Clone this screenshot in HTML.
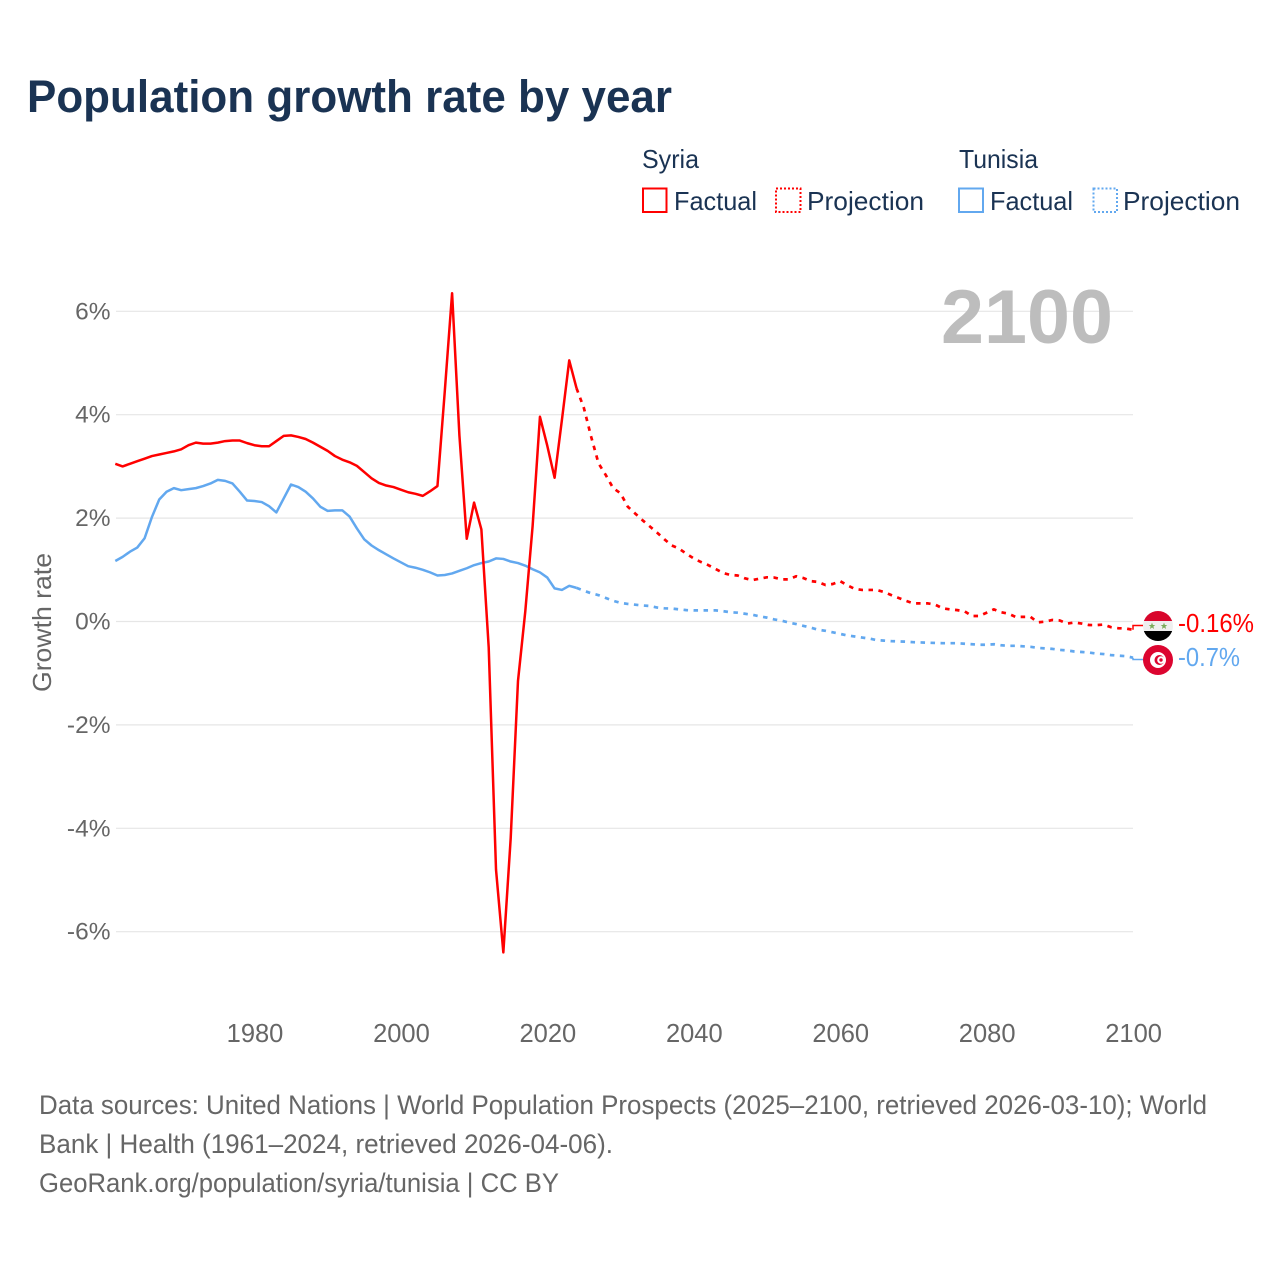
<!DOCTYPE html>
<html lang="en">
<head>
<meta charset="utf-8">
<title>Population growth rate by year</title>
<style>
html,body{margin:0;padding:0;background:#fff;width:1280px;height:1280px;overflow:hidden}
svg{display:block}
text{font-family:"Liberation Sans",sans-serif}
</style>
</head>
<body>
<svg id="chart" xmlns="http://www.w3.org/2000/svg" width="1280" height="1280" viewBox="0 0 1280 1280">
  <rect width="1280" height="1280" fill="#ffffff"/>
  <defs>
    <clipPath id="flag-clip-syria"><circle cx="1158" cy="626" r="15"/></clipPath>
    <clipPath id="flag-clip-tunisia"><circle cx="1158" cy="660" r="15"/></clipPath>
  </defs>

  <text x="27" y="112" font-size="45" font-weight="700" fill="#1a3353" textLength="645" lengthAdjust="spacingAndGlyphs">Population growth rate by year</text>

  <g font-size="26" fill="#1a3353">
    <text x="642" y="168" textLength="57" lengthAdjust="spacingAndGlyphs">Syria</text>
    <text x="959" y="168" textLength="79" lengthAdjust="spacingAndGlyphs">Tunisia</text>
    <g>
      <rect x="643" y="188.5" width="23.5" height="23.5" fill="none" stroke="#ff0000" stroke-width="2"/>
      <text x="674" y="210" textLength="83" lengthAdjust="spacingAndGlyphs">Factual</text>
    </g>
    <g>
      <rect x="776" y="188.5" width="24.5" height="23.5" fill="none" stroke="#ff0000" stroke-width="2" stroke-dasharray="2 2"/>
      <text x="807" y="210" textLength="117" lengthAdjust="spacingAndGlyphs">Projection</text>
    </g>
    <g>
      <rect x="959" y="188.5" width="24" height="23.5" fill="none" stroke="#62a8ef" stroke-width="2"/>
      <text x="990" y="210" textLength="83" lengthAdjust="spacingAndGlyphs">Factual</text>
    </g>
    <g>
      <rect x="1093.5" y="188.5" width="23.5" height="23.5" fill="none" stroke="#62a8ef" stroke-width="2" stroke-dasharray="2 2"/>
      <text x="1123" y="210" textLength="117" lengthAdjust="spacingAndGlyphs">Projection</text>
    </g>
  </g>

  <g id="grid"></g>
  <g id="y-ticks"></g>
  <g id="x-ticks"></g>

  <text transform="translate(51 692) rotate(-90)" font-size="26" fill="#666666" textLength="139" lengthAdjust="spacingAndGlyphs">Growth rate</text>

  <text x="1113" y="343" text-anchor="end" font-size="76" font-weight="700" fill="#bdbdbd" textLength="172" lengthAdjust="spacingAndGlyphs">2100</text>

  <g id="series"></g>

  <g clip-path="url(#flag-clip-syria)">
    <rect x="1143" y="611" width="30" height="10" fill="#d8062c"/>
    <rect x="1143" y="621" width="30" height="10" fill="#efefef"/>
    <rect x="1143" y="631" width="30" height="10" fill="#000000"/>
    <polygon fill="#7bab5a" points="1152,622.6 1152.9,625 1155.3,625 1153.4,626.5 1154.1,629 1152,627.5 1149.9,629 1150.6,626.5 1148.7,625 1151.1,625"/>
    <polygon fill="#7bab5a" points="1164,622.6 1164.9,625 1167.3,625 1165.4,626.5 1166.1,629 1164,627.5 1161.9,629 1162.6,626.5 1160.7,625 1163.1,625"/>
  </g>
  <g clip-path="url(#flag-clip-tunisia)">
    <rect x="1143" y="645" width="30" height="30" fill="#dc0530"/>
    <circle cx="1158" cy="660" r="8" fill="#ffffff"/>
    <circle cx="1159.5" cy="660" r="5" fill="#dc0530"/>
    <circle cx="1161" cy="660" r="3.8" fill="#ffffff"/>
    <circle cx="1161" cy="660" r="1.7" fill="#dc0530"/>
  </g>

  <text x="1178" y="632" font-size="26" fill="#ff0000" textLength="76" lengthAdjust="spacingAndGlyphs">-0.16%</text>
  <text x="1178" y="666" font-size="26" fill="#62a8ef" textLength="62" lengthAdjust="spacingAndGlyphs">-0.7%</text>

  <g font-size="27" fill="#666666">
    <text x="39" y="1114" textLength="1168" lengthAdjust="spacingAndGlyphs">Data sources: United Nations | World Population Prospects (2025–2100, retrieved 2026-03-10); World</text>
    <text x="39" y="1153" textLength="574" lengthAdjust="spacingAndGlyphs">Bank | Health (1961–2024, retrieved 2026-04-06).</text>
    <text x="39" y="1192" textLength="520" lengthAdjust="spacingAndGlyphs">GeoRank.org/population/syria/tunisia | CC BY</text>
  </g>
</svg>
<script>
var factualYears = [1961,1962,1963,1964,1965,1966,1967,1968,1969,1970,1971,1972,1973,1974,1975,1976,1977,1978,1979,1980,1981,1982,1983,1984,1985,1986,1987,1988,1989,1990,1991,1992,1993,1994,1995,1996,1997,1998,1999,2000,2001,2002,2003,2004,2005,2006,2007,2008,2009,2010,2011,2012,2013,2014,2015,2016,2017,2018,2019,2020,2021,2022,2023,2024];
var projectionYears = [2024,2025,2026,2027,2028,2029,2030,2031,2032,2033,2034,2035,2036,2037,2038,2039,2040,2041,2042,2043,2044,2045,2046,2047,2048,2049,2050,2051,2052,2053,2054,2055,2056,2057,2058,2059,2060,2061,2062,2063,2064,2065,2066,2067,2068,2069,2070,2071,2072,2073,2074,2075,2076,2077,2078,2079,2080,2081,2082,2083,2084,2085,2086,2087,2088,2089,2090,2091,2092,2093,2094,2095,2096,2097,2098,2099,2100];
var syriaFactual = [3.05,3.00,3.05,3.10,3.15,3.20,3.23,3.26,3.29,3.33,3.41,3.46,3.44,3.44,3.46,3.49,3.50,3.50,3.45,3.41,3.39,3.39,3.49,3.59,3.60,3.57,3.53,3.46,3.38,3.30,3.20,3.13,3.08,3.01,2.89,2.77,2.68,2.63,2.60,2.55,2.50,2.47,2.43,2.52,2.62,4.45,6.35,3.60,1.60,2.30,1.78,-0.50,-4.80,-6.40,-4.20,-1.15,0.20,1.85,3.96,3.40,2.78,3.90,5.05,4.51];
var syriaProjection = [4.51,4.13,3.57,3.06,2.83,2.58,2.48,2.22,2.09,1.96,1.84,1.72,1.59,1.47,1.41,1.31,1.22,1.15,1.09,1.015,0.94,0.90,0.89,0.835,0.80,0.83,0.855,0.85,0.815,0.815,0.875,0.84,0.78,0.765,0.705,0.725,0.78,0.70,0.63,0.61,0.61,0.61,0.57,0.51,0.455,0.40,0.35,0.35,0.35,0.325,0.255,0.235,0.22,0.197,0.106,0.106,0.17,0.235,0.178,0.15,0.087,0.09,0.09,-0.016,-0.003,0.03,0.02,-0.04,-0.02,-0.04,-0.068,-0.07,-0.06,-0.11,-0.13,-0.135,-0.16];
var tunisiaFactual = [1.17,1.25,1.35,1.43,1.61,2.02,2.36,2.51,2.58,2.54,2.56,2.58,2.62,2.67,2.74,2.72,2.67,2.51,2.34,2.33,2.31,2.23,2.11,2.38,2.65,2.60,2.51,2.38,2.22,2.14,2.15,2.15,2.03,1.80,1.59,1.47,1.38,1.30,1.22,1.145,1.07,1.04,1.00,0.95,0.89,0.90,0.93,0.98,1.03,1.09,1.13,1.16,1.22,1.21,1.16,1.13,1.08,1.01,0.95,0.85,0.64,0.61,0.69,0.65];
var tunisiaProjection = [0.65,0.595,0.545,0.51,0.455,0.40,0.36,0.34,0.325,0.31,0.30,0.27,0.255,0.25,0.235,0.22,0.215,0.215,0.215,0.215,0.20,0.18,0.17,0.15,0.13,0.10,0.075,0.04,0.015,-0.02,-0.05,-0.085,-0.12,-0.16,-0.18,-0.21,-0.24,-0.27,-0.29,-0.31,-0.33,-0.36,-0.37,-0.38,-0.385,-0.39,-0.40,-0.405,-0.41,-0.415,-0.42,-0.42,-0.42,-0.43,-0.44,-0.45,-0.45,-0.44,-0.46,-0.47,-0.47,-0.48,-0.49,-0.51,-0.52,-0.53,-0.55,-0.56,-0.58,-0.59,-0.60,-0.62,-0.63,-0.65,-0.66,-0.67,-0.70];
var yTickValues = [6,4,2,0,-2,-4,-6];
var yTickLabels = ["6%","4%","2%","0%","-2%","-4%","-6%"];
var xTickValues = [1980,2000,2020,2040,2060,2080,2100];
var xTickLabels = ["1980","2000","2020","2040","2060","2080","2100"];

var SVG_NS = 'http://www.w3.org/2000/svg';
function xScale(year) { return 115.3 + (year - 1961) * (1133 - 115.3) / 139; }
function yScale(value) { return 621.5 - value * 51.7; }
function make(tag, attrs, parent) {
  var el = document.createElementNS(SVG_NS, tag);
  for (var k in attrs) { el.setAttribute(k, attrs[k]); }
  parent.appendChild(el);
  return el;
}
function linePath(years, values) {
  var d = '';
  for (var i = 0; i < years.length; i++) {
    d += (i ? 'L' : 'M') + xScale(years[i]).toFixed(2) + ' ' + yScale(values[i]).toFixed(2);
  }
  return d;
}

var gridG = document.getElementById('grid');
var yG = document.getElementById('y-ticks');
yTickValues.forEach(function (v, i) {
  var line = make('line', {x1: 116, x2: 1133, y1: yScale(v), y2: yScale(v), stroke: '#e6e6e6', 'stroke-width': 1.2}, gridG);
  
  
  var t = make('text', {x: 110.5, y: yScale(v) + 8, 'text-anchor': 'end', 'font-size': 24.5, fill: '#666666'}, yG);
  
  
  t.textContent = yTickLabels[i];
});

var xG = document.getElementById('x-ticks');
xTickValues.forEach(function (v, i) {
  var t = make('text', {x: xScale(v) + 0.6, y: 1042, 'text-anchor': 'middle', 'font-size': 25.5, fill: '#666666'}, xG);
  
  
  t.textContent = xTickLabels[i];
});

var seriesG = document.getElementById('series');
function drawCountry(name, color, factual, projection, flagY) {
  var solid = make('path', {d: linePath(factualYears, factual), fill: 'none', stroke: color, 'stroke-width': 2.5, 'stroke-linejoin': 'round'}, seriesG);
  
  
  var dashed = make('path', {d: linePath(projectionYears, projection), fill: 'none', stroke: color, 'stroke-width': 2.7, 'stroke-dasharray': '4.5 5.5', 'stroke-linejoin': 'round'}, seriesG);
  
  
  var endX = xScale(projectionYears[projectionYears.length - 1]);
  var endY = yScale(projection[projection.length - 1]);
  var conn = make('path', {d: 'M' + endX + ' ' + endY + 'V' + flagY + 'H1143', fill: 'none', stroke: color, 'stroke-width': 1.5}, seriesG);
  
  
}
drawCountry('tunisia', '#62a8ef', tunisiaFactual, tunisiaProjection, 659.5);
drawCountry('syria', '#ff0000', syriaFactual, syriaProjection, 625.5);
</script>
</body>
</html>
